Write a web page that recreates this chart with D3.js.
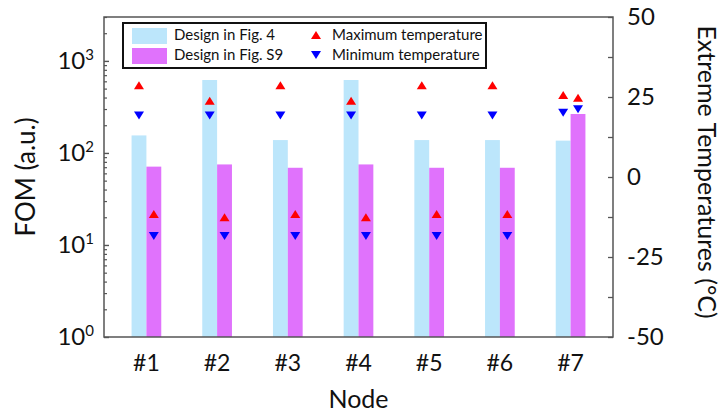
<!DOCTYPE html>
<html>
<head>
<meta charset="utf-8">
<script src="https://cdn.jsdelivr.net/npm/d3@7"></script>
<style>
  body { margin: 0; background: #fff; }
  text { font-family: Lato, "Open Sans", sans-serif; fill: #111; }
</style>
</head>
<body>
<div id="canvas"></div>
<script>
const nodes = ["#1", "#2", "#3", "#4", "#5", "#6", "#7"];
const fomFig4 = [155, 620, 138, 620, 138, 138, 136];
const fomFigS9 = [71, 75, 69, 75, 69, 69, 265];
const maxFig4 = [28.7, 23.8, 28.7, 23.8, 28.7, 28.7, 25.6];
const minFig4 = [19.2, 19.2, 19.2, 19.2, 19.2, 19.2, 20.1];
const maxFigS9 = [-11.6, -12.6, -11.6, -12.6, -11.6, -11.6, 24.8];
const minFigS9 = [-18.4, -18.4, -18.4, -18.4, -18.4, -18.4, 21.2];
const fomTicks = [1, 10, 100, 1000];
const tempTicks = [-50, -25, 0, 25, 50];

const width = 723;
const height = 412;
const margin = { top: 17, left: 104, bottom: 75, right: 110 };
const iwidth = width - margin.left - margin.right;
const iheight = height - margin.top - margin.bottom;

const axisColor = "#555";
const blueBar = "#bce6fb";
const pinkBar = "#e072fc";

const svg = d3.select("#canvas").append("svg")
    .attr("width", width)
    .attr("height", height);

const g = svg.append("g").attr("transform", `translate(${margin.left},${margin.top})`);

const x = d3.scaleLinear().domain([0.4, 7.6]).range([0, iwidth]);
const y = d3.scaleLog().domain([1, 3000]).range([iheight, 0]);
const t = d3.scaleLinear().domain([-50, 50]).range([iheight, 0]);
const bw = 0.21;

// bars
g.selectAll("rect.fig4").data(fomFig4).enter().append("rect")
    .attr("class", "fig4")
    .attr("x", (d, i) => x(i + 1 - bw))
    .attr("width", x(bw) - x(0))
    .attr("y", d => y(d))
    .attr("height", d => y(1) - y(d))
    .style("fill", blueBar);

g.selectAll("rect.figs9").data(fomFigS9).enter().append("rect")
    .attr("class", "figs9")
    .attr("x", (d, i) => x(i + 1))
    .attr("width", x(bw) - x(0))
    .attr("y", d => y(d))
    .attr("height", d => y(1) - y(d))
    .style("fill", pinkBar);

// triangles
const triUp = "M0,-4L5,4L-5,4Z";
const triDown = "M0,4L5,-4L-5,-4Z";

function markers(vals, offset, path, color) {
    g.append("g").selectAll("path").data(vals).enter().append("path")
        .attr("d", path)
        .attr("transform", (d, i) => `translate(${x(i + 1 + offset)},${t(d)})`)
        .style("fill", color);
}
markers(maxFig4, -bw / 2, triUp, "#ff0000");
markers(minFig4, -bw / 2, triDown, "#0000ff");
markers(maxFigS9, bw / 2, triUp, "#ff0000");
markers(minFigS9, bw / 2, triDown, "#0000ff");

// left axis (log)
const minor = [];
[1, 10, 100, 1000].forEach(dec => {
    for (let k = 2; k <= 9; k++) if (dec * k <= 3000) minor.push(dec * k);
});
g.append("g")
    .call(d3.axisRight(y).tickValues(minor).tickSize(3).tickFormat(""))
    .call(a => a.select(".domain").remove())
    .selectAll("line").attr("stroke", axisColor).attr("stroke-width", 1.2);

const yAx = g.append("g")
    .call(d3.axisRight(y).tickValues(fomTicks).tickSize(5).tickFormat(""))
    .call(a => a.select(".domain").remove());
yAx.selectAll("line").attr("stroke", axisColor).attr("stroke-width", 1.4);

const yLab = g.append("g").selectAll("text").data(fomTicks).enter().append("text")
    .attr("x", -10)
    .attr("y", d => y(d) + 8)
    .attr("text-anchor", "end")
    .style("font-size", "24px");
yLab.append("tspan").text("10");
yLab.append("tspan").text(d => Math.round(Math.log10(d)))
    .attr("dy", -9)
    .style("font-size", "15px");

// right axis
const tAx = g.append("g")
    .attr("transform", `translate(${iwidth},0)`)
    .call(d3.axisLeft(t).tickValues(d3.range(-50, 51, 12.5)).tickSize(5).tickFormat(""))
    .call(a => a.select(".domain").remove());
tAx.selectAll("line").attr("stroke", axisColor).attr("stroke-width", 1.3);

g.append("g").selectAll("text").data(tempTicks).enter().append("text")
    .attr("x", iwidth + 14)
    .attr("y", d => t(d) + 8)
    .style("font-size", "24px")
    .text(d => d);

// x labels
g.append("g").selectAll("text").data(nodes).enter().append("text")
    .attr("x", (d, i) => x(i + 1))
    .attr("y", iheight + 34)
    .attr("text-anchor", "middle")
    .style("font-size", "23px")
    .text(d => d);

// frame
g.append("rect")
    .attr("width", iwidth)
    .attr("height", iheight)
    .attr("fill", "none")
    .attr("stroke", axisColor)
    .attr("stroke-width", 1.5);

// titles
svg.append("text")
    .attr("transform", `translate(35,${margin.top + iheight / 2}) rotate(-90)`)
    .attr("text-anchor", "middle")
    .style("font-size", "26px")
    .text("FOM (a.u.)");

svg.append("text")
    .attr("transform", `translate(698,${margin.top + iheight / 2 - 5}) rotate(90)`)
    .attr("text-anchor", "middle")
    .style("font-size", "25px")
    .text("Extreme Temperatures (°C)");

svg.append("text")
    .attr("x", margin.left + x(4))
    .attr("y", 408)
    .attr("text-anchor", "middle")
    .style("font-size", "25px")
    .text("Node");

// legend
const lg = svg.append("g").attr("transform", "translate(123,23)");
lg.append("rect")
    .attr("width", 363).attr("height", 45)
    .attr("fill", "#fff").attr("stroke", "#111").attr("stroke-width", 2);

const legBars = [
    { label: "Design in Fig. 4", color: blueBar },
    { label: "Design in Fig. S9", color: pinkBar }
];
const legMarks = [
    { label: "Maximum temperature", path: triUp, color: "#ff0000" },
    { label: "Minimum temperature", path: triDown, color: "#0000ff" }
];
legBars.forEach((d, i) => {
    lg.append("rect").attr("x", 9).attr("y", 5 + i * 20).attr("width", 35).attr("height", 16).style("fill", d.color);
    lg.append("text").attr("x", 51).attr("y", 17 + i * 20).style("font-size", "15px").text(d.label);
});
legMarks.forEach((d, i) => {
    lg.append("path").attr("d", d.path).attr("transform", `translate(193,${12 + i * 20})`).style("fill", d.color);
    lg.append("text").attr("x", 209).attr("y", 17 + i * 20).style("font-size", "15px").text(d.label);
});
</script>
</body>
</html>
